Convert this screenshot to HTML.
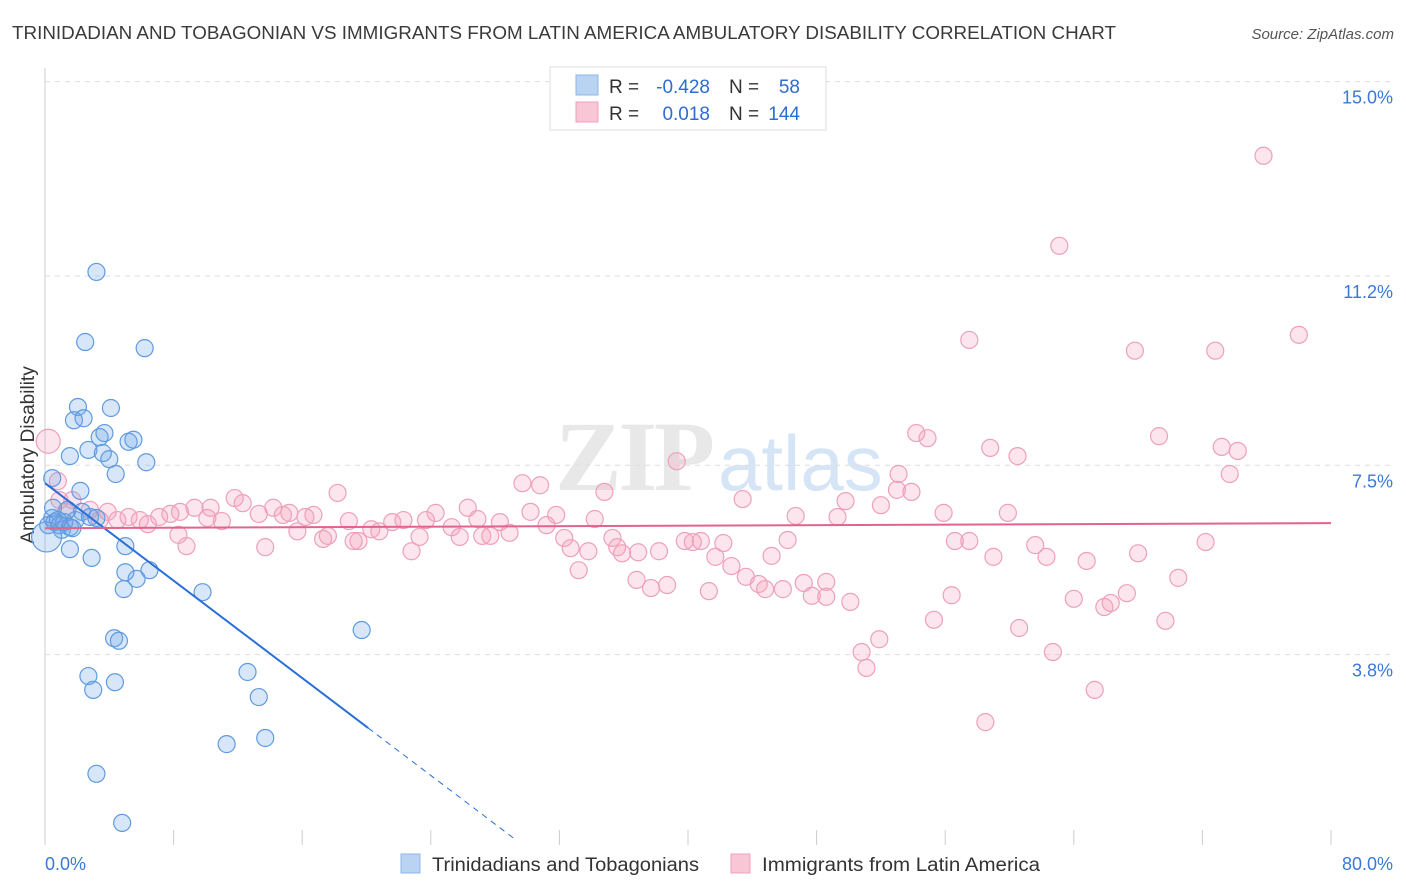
<!DOCTYPE html>
<html><head><meta charset="utf-8"><style>
body{margin:0;background:#fff;font-family:"Liberation Sans",sans-serif;}
svg{display:block}
</style></head><body>
<svg id="c" width="1406" height="892">
<text x="12" y="39" font-size="18" fill="#3a3a3a" textLength="1104" lengthAdjust="spacingAndGlyphs">TRINIDADIAN AND TOBAGONIAN VS IMMIGRANTS FROM LATIN AMERICA AMBULATORY DISABILITY CORRELATION CHART</text>
<text x="1394" y="39" font-size="15" fill="#555" font-style="italic" text-anchor="end">Source: ZipAtlas.com</text>
<text x="555" y="490" font-size="100" fill="#e8e8e8" font-family="Liberation Serif" font-weight="bold" textLength="160">ZIP</text>
<text x="718" y="490" font-size="78" fill="#d6e5f5">atlas</text>
<text transform="translate(34,455) rotate(-90)" font-size="19" fill="#333" text-anchor="middle">Ambulatory Disability</text>
<g id="grid"></g><g id="pts"></g><g id="lines"></g>
<g>
<rect x="550" y="67" width="276" height="63" fill="#fff" stroke="#ddd"/>
<rect x="576" y="75" width="22" height="20" fill="#b9d3f3" stroke="#8fb6e8"/>
<rect x="576" y="102" width="22" height="20" fill="#f9c6d6" stroke="#f0a0bb"/>
<text x="609" y="93" font-size="19" fill="#333">R =</text><text x="710" y="93" font-size="19" fill="#2d6cd0" text-anchor="end">-0.428</text>
<text x="729" y="93" font-size="19" fill="#333">N =</text><text x="800" y="93" font-size="19" fill="#2d6cd0" text-anchor="end">58</text>
<text x="609" y="120" font-size="19" fill="#333">R =</text><text x="710" y="120" font-size="19" fill="#2d6cd0" text-anchor="end">0.018</text>
<text x="729" y="120" font-size="19" fill="#333">N =</text><text x="800" y="120" font-size="19" fill="#2d6cd0" text-anchor="end">144</text>
</g>
<g>
<rect x="401" y="854" width="19" height="19" fill="#b9d3f3" stroke="#8fb6e8"/>
<text x="432" y="871" font-size="19" fill="#333" textLength="267" lengthAdjust="spacingAndGlyphs">Trinidadians and Tobagonians</text>
<rect x="731" y="854" width="19" height="19" fill="#f9c6d6" stroke="#f0a0bb"/>
<text x="762" y="871" font-size="19" fill="#333" textLength="278" lengthAdjust="spacingAndGlyphs">Immigrants from Latin America</text>
</g>
</svg>
<script>
const xTicks=[0,10,20,30,40,50,60,70,80];
const yTicks=[3.8,7.5,11.2,15.0];
const yTickLabels=["3.8%","7.5%","11.2%","15.0%"];
const blueX=[3.2,2.5,6.2,2.05,4.1,1.8,2.4,3.4,3.7,5.2,5.5,1.55,2.7,3.6,4.0,6.3,4.4,0.45,2.2,5.0,2.9,6.5,5.0,5.7,4.9,9.8,19.7,4.3,4.6,2.7,4.35,3.0,12.6,13.3,11.3,13.7,3.2,4.8,1.55,0.2,0.45,0.6,0.9,1.2,1.05,1.55,1.9,2.3,2.8,3.2,1.4,0.5,1.7,0.8,0.1];
const blueY=[11.28,9.91,9.79,8.64,8.62,8.38,8.42,8.05,8.13,7.96,8.0,7.68,7.8,7.74,7.62,7.56,7.33,7.25,7.0,5.92,5.69,5.45,5.41,5.28,5.08,5.02,4.28,4.12,4.07,3.38,3.26,3.11,3.46,2.97,2.05,2.17,1.47,0.51,5.86,6.33,6.47,6.39,6.33,6.39,6.24,6.29,6.43,6.59,6.49,6.47,6.63,6.67,6.27,6.43,6.1];
const pinkX=[75.8,63.1,57.5,78.0,67.8,72.8,54.2,54.9,58.8,69.3,73.2,74.2,60.5,39.3,53.1,73.7,29.7,30.8,34.8,53.0,53.9,43.4,18.2,11.8,12.3,52.0,49.8,9.3,10.3,14.2,13.3,26.3,24.3,30.2,31.8,46.7,49.3,55.9,59.9,7.1,7.8,8.4,14.8,16.7,16.2,15.2,18.9,21.6,22.3,23.7,26.9,28.3,34.2,11.0,10.1,5.9,6.4,4.5,5.2,3.9,2.8,20.3,20.8,15.7,25.3,31.2,17.6,19.5,17.3,25.8,27.2,27.7,28.9,8.3,8.8,13.7,19.2,22.8,23.3,32.3,32.7,33.8,35.3,35.6,33.2,35.9,36.9,38.2,39.8,40.3,40.8,42.2,41.7,42.7,45.2,46.2,36.8,37.7,38.7,41.3,43.6,44.4,44.8,45.9,47.2,48.6,47.7,48.6,50.1,56.6,57.5,59.0,61.6,62.3,64.8,68.0,72.2,70.5,67.3,65.9,66.3,64.0,56.4,55.3,60.6,69.7,62.7,51.9,50.8,51.1,65.3,58.5,0.2,0.8,0.9,1.7,1.3,3.4];
const pinkY=[13.55,11.79,9.95,10.05,9.74,9.74,8.13,8.03,7.84,8.07,7.86,7.78,7.68,7.58,7.33,7.33,7.15,7.11,6.98,7.02,6.98,6.84,6.96,6.86,6.76,6.72,6.80,6.67,6.67,6.67,6.55,6.67,6.57,6.59,6.53,6.51,6.49,6.57,6.57,6.49,6.55,6.59,6.53,6.53,6.49,6.57,6.41,6.39,6.43,6.43,6.45,6.39,6.45,6.41,6.47,6.43,6.35,6.43,6.49,6.59,6.63,6.25,6.21,6.21,6.29,6.33,6.12,6.02,6.06,6.10,6.12,6.12,6.18,6.14,5.92,5.90,6.02,5.82,6.10,6.08,5.88,5.82,6.08,5.90,5.45,5.78,5.80,5.82,6.02,6.00,6.02,5.98,5.71,5.53,5.73,6.04,5.26,5.10,5.16,5.04,5.32,5.18,5.08,5.08,5.20,5.22,4.95,4.93,4.83,6.02,6.02,5.71,5.94,5.71,5.63,5.78,6.00,5.30,5.00,4.73,4.81,4.89,4.96,4.48,4.32,4.46,3.85,4.10,3.85,3.54,3.11,2.48,7.97,7.19,6.82,6.82,6.59,6.43];
const blueTrend=[7.15,-0.238];
const pinkTrend=[6.27,0.00125];
const X=v=>45+v*16.075, Y=v=>849-v*51.16;
const NS="http://www.w3.org/2000/svg";
function mk(t,a,p){const e=document.createElementNS(NS,t);for(const k in a)e.setAttribute(k,a[k]);p.appendChild(e);return e;}
const grid=document.getElementById('grid');
mk('line',{x1:45,y1:68,x2:45,y2:845,stroke:'#ccc'},grid);
yTicks.forEach((v,i)=>{
 const l=mk('line',{x1:45,y1:Y(v),x2:1395,y2:Y(v),stroke:'#ddd','stroke-dasharray':'5,5'},grid);
 
 
 const t=mk('text',{x:1393,y:Y(v)+22,'font-size':18,fill:'#3b78d8','text-anchor':'end'},grid);t.textContent=yTickLabels[i];
 
 
});
for(let i=0;i<=10;i++){const v=i*8;const l=mk('line',{x1:X(v),y1:830,x2:X(v),y2:845,stroke:'#ccc'},grid);
 
 }
let t=mk('text',{x:45,y:870,'font-size':18,fill:'#3b78d8'},grid);t.textContent='0.0%';


t=mk('text',{x:1393,y:870,'font-size':18,fill:'#3b78d8','text-anchor':'end'},grid);t.textContent='80.0%';


const pts=document.getElementById('pts');
pinkX.forEach((x,i)=>{const c=mk('circle',{cx:X(x),cy:Y(pinkY[i]),r:(i==pinkX.length-6)?12:8.5,fill:'rgba(244,160,188,0.28)',stroke:'#eea0ba','stroke-width':1.2},pts);
 
 });
blueX.forEach((x,i)=>{const c=mk('circle',{cx:X(x),cy:Y(blueY[i]),r:i==blueX.length-1?15:8.5,fill:'rgba(110,165,230,0.28)',stroke:'#5f9be0','stroke-width':1.2},pts);
 
 });
const lines=document.getElementById('lines');
let l=mk('line',{x1:X(0),y1:Y(blueTrend[0]),x2:X(20.1),y2:Y(blueTrend[0]+blueTrend[1]*20.1),stroke:'#2a6fd6','stroke-width':2},lines);


l=mk('line',{x1:X(20.1),y1:Y(blueTrend[0]+blueTrend[1]*20.1),x2:X(29.2),y2:Y(blueTrend[0]+blueTrend[1]*29.2),stroke:'#2a6fd6','stroke-width':1,'stroke-dasharray':'6,5'},lines);


l=mk('line',{x1:X(0),y1:Y(pinkTrend[0]),x2:X(80),y2:Y(pinkTrend[0]+pinkTrend[1]*80),stroke:'#e0648d','stroke-width':2},lines);


</script>
</body></html>
